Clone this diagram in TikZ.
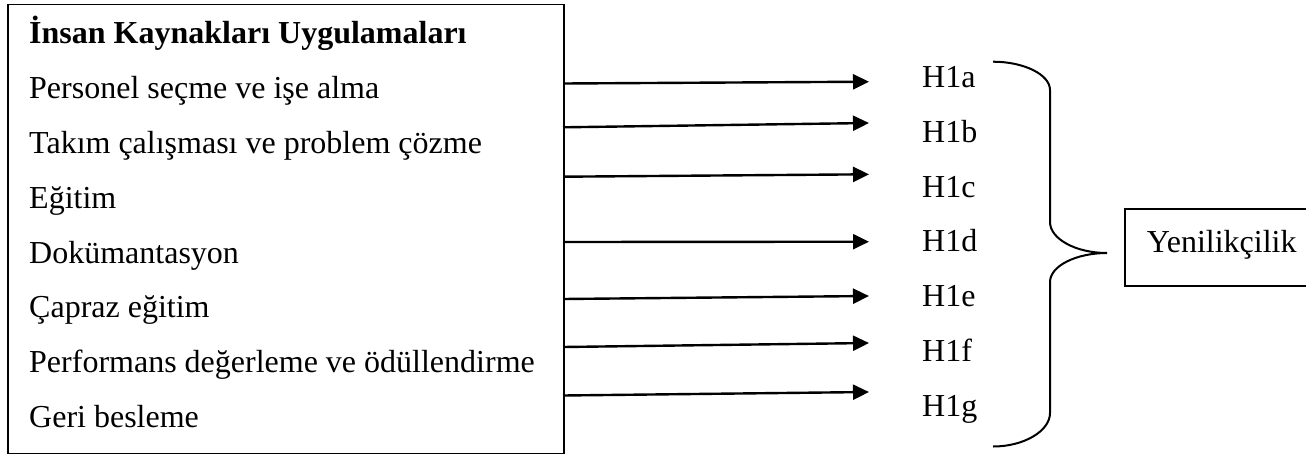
\documentclass[tikz,border=0pt]{standalone}
\usepackage{fontspec}
\setmainfont{Liberation Serif}
\usetikzlibrary{arrows.meta}
\begin{document}
\begin{tikzpicture}[x=1pt,y=-1pt,
  frame/.style={draw, line width=1.7pt, inner sep=0pt, anchor=north west},
  txt/.style={anchor=base west, inner sep=0pt, font=\fontsize{32}{38}\selectfont},
  link/.style={line width=2.4pt, -{Triangle[length=16pt,width=15pt]}},
  bracepath/.style={line width=2pt}]
\useasboundingbox (0,0) rectangle (1306,456);
\clip (0,0) rectangle (1306,456);

% practices box
\node[frame, minimum width=556pt, minimum height=449pt] (hr) at (7,3.5) {};
\node[txt, font=\fontsize{32}{38}\selectfont\bfseries] (title) at (29,43.3) {İnsan Kaynakları Uygulamaları};
\node[txt] (p1) at (29,98.3)  {Personel seçme ve işe alma};
\node[txt] (p2) at (29,153.2) {Takım çalışması ve problem çözme};
\node[txt] (p3) at (29,208.1) {Eğitim};
\node[txt] (p4) at (29,263.0) {Dokümantasyon};
\node[txt] (p5) at (29,317.9) {Çapraz eğitim};
\node[txt] (p6) at (29,372.8) {Performans değerleme ve ödüllendirme};
\node[txt] (p7) at (29,427.7) {Geri besleme};

% hypothesis labels
\node[txt] (h1) at (922,87.5)  {H1a};
\node[txt] (h2) at (922,142.3) {H1b};
\node[txt] (h3) at (922,197.1) {H1c};
\node[txt] (h4) at (922,251.9) {H1d};
\node[txt] (h5) at (922,306.7) {H1e};
\node[txt] (h6) at (922,361.5) {H1f};
\node[txt] (h7) at (922,416.3) {H1g};

% arrow end points
\coordinate (s1) at (563,83.5);  \coordinate (t1) at (869,81.7);
\coordinate (s2) at (563,127.3); \coordinate (t2) at (869,123.0);
\coordinate (s3) at (563,176.7); \coordinate (t3) at (869,174.3);
\coordinate (s4) at (563,242.0); \coordinate (t4) at (869,241.7);
\coordinate (s5) at (563,299.0); \coordinate (t5) at (869,296.0);
\coordinate (s6) at (563,347.0); \coordinate (t6) at (869,343.0);
\coordinate (s7) at (563,395.5); \coordinate (t7) at (869,392.0);
\foreach \i in {1,...,7} {\draw[link] (s\i) -- (t\i);}

% curly brace
\draw[bracepath] (993,61.7) .. controls (1024,61.7) and (1050,74.6) .. (1050,90)
  -- (1050,222) .. controls (1050,239) and (1076,253) .. (1107,253)
  .. controls (1076,253) and (1050,266) .. (1050,282)
  -- (1050,413) .. controls (1050,431) and (1024,446.5) .. (993,446.5);

% outcome box
\node[frame, minimum width=220pt, minimum height=76.7pt] (out) at (1124,208.3) {};
\node[txt] (yen) at (1146.7,252) {Yenilikçilik};
\end{tikzpicture}
\end{document}
